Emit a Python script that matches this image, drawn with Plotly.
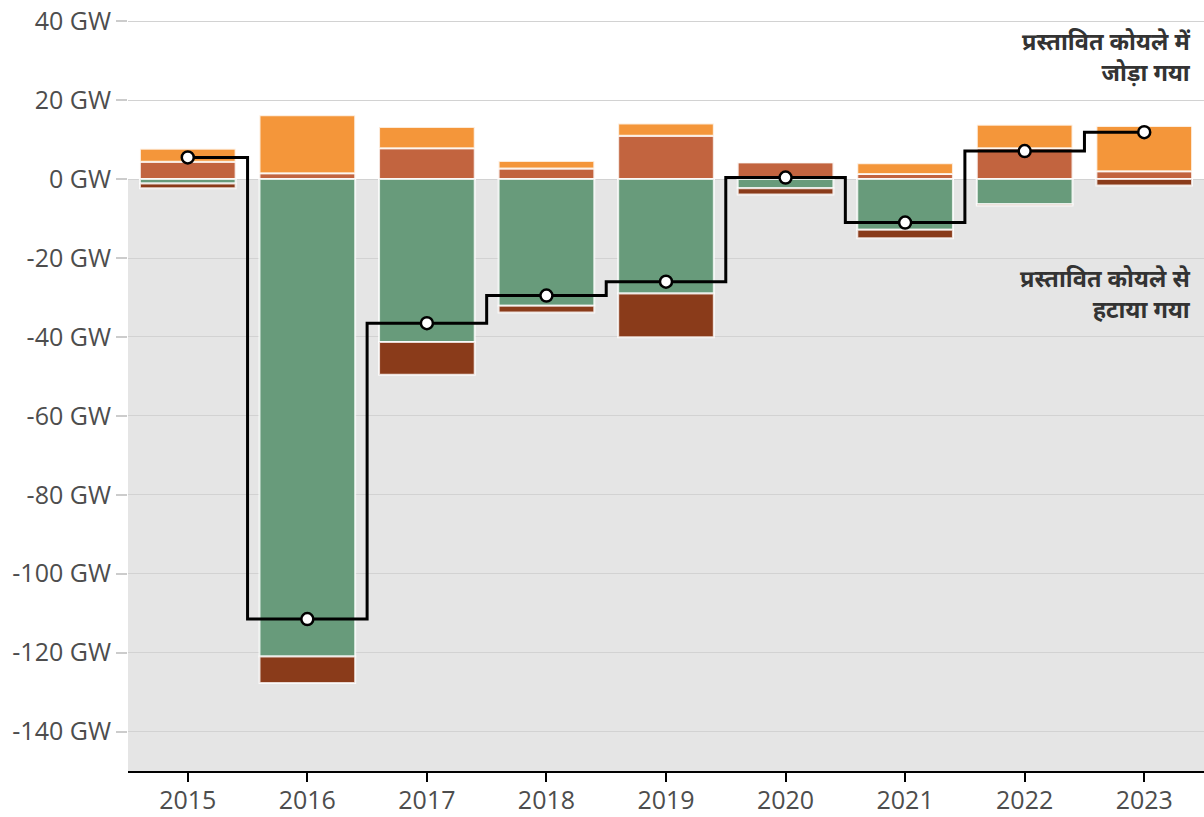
import plotly.graph_objects as go

years = ["2015", "2016", "2017", "2018", "2019", "2020", "2021", "2022", "2023"]
revived = [4.4, 1.5, 7.8, 2.7, 11.0, 4.3, 1.3, 7.8, 2.0]        # red-brown, positive
new_added = [3.3, 14.7, 5.4, 1.9, 3.1, 0.0, 2.7, 6.0, 11.5]     # orange, positive
cancelled = [-1.1, -121.0, -41.3, -32.1, -29.0, -2.3, -12.8, -6.4, 0.0]  # green, negative
shelved = [-1.2, -6.7, -8.3, -1.7, -11.1, -1.6, -2.2, -0.3, -1.6]        # dark brown, negative
net = [5.5, -111.5, -36.5, -29.5, -26.0, 0.4, -11.0, 7.1, 11.9]

y_ticks = [40, 20, 0, -20, -40, -60, -80, -100, -120, -140]
y_labels = [f"{v} GW" for v in y_ticks]

ann_top = "प्रस्तावित कोयले में<br>जोड़ा गया"
ann_bottom = "प्रस्तावित कोयले से<br>हटाया गया"

fig = go.Figure()
outline = dict(color="rgba(255,255,255,0.8)", width=2)
for vals, col in [(revived, "#C2643F"), (new_added, "#F4963A"),
                  (cancelled, "#689B7B"), (shelved, "#8A3B1A")]:
    fig.add_trace(go.Bar(x=years, y=vals, marker=dict(color=col, line=outline),
                         width=0.8, showlegend=False, hoverinfo="skip"))

fig.add_trace(go.Scatter(x=years, y=net, mode="lines+markers",
                         line=dict(color="black", width=3, shape="hvh"),
                         marker=dict(color="white", size=12, line=dict(color="black", width=2.5)),
                         showlegend=False, hoverinfo="skip"))

fig.add_shape(type="rect", xref="paper", yref="y", x0=0, x1=1, y0=-150, y1=0,
              fillcolor="#e5e5e5", line=dict(width=0), layer="below")

font_fam = "Open Sans, Noto Sans, Noto Sans Devanagari, sans-serif"
for txt, yv in [(ann_top, 31.2), (ann_bottom, -28.9)]:
    fig.add_annotation(text=txt, xref="paper", yref="y", x=(1192 - 128) / 1076, y=yv,
                       xanchor="right", yanchor="middle", align="right", showarrow=False,
                       borderpad=0,
                       font=dict(size=23.5, color="#333333", family=font_fam, weight="bold"))

fig.update_layout(
    barmode="relative",
    width=1204, height=817,
    margin=dict(l=128, r=0, t=10, b=46),
    plot_bgcolor="white", paper_bgcolor="white",
    font=dict(family=font_fam, size=25, color="#4d4d4d"),
)
fig.update_xaxes(type="category", range=[-0.5, 8.5], showline=True, linecolor="black",
                 linewidth=2, ticks="outside", ticklen=9, tickwidth=2, tickcolor="black",
                 showgrid=False, tickfont=dict(size=25, color="#4d4d4d"), automargin=False,
                 ticklabelstandoff=-3)
fig.update_yaxes(range=[-150, 42.86], tickvals=y_ticks, ticktext=y_labels,
                 showgrid=True, gridcolor="#d2d2d2", gridwidth=1, zeroline=False,
                 ticks="outside", ticklen=11, tickcolor="#cccccc", tickwidth=2,
                 showline=False, tickfont=dict(size=25, color="#4d4d4d"), automargin=False)

fig.write_html("out.html", post_script="document.body.style.margin='0';",
               config={"displayModeBar": False})
